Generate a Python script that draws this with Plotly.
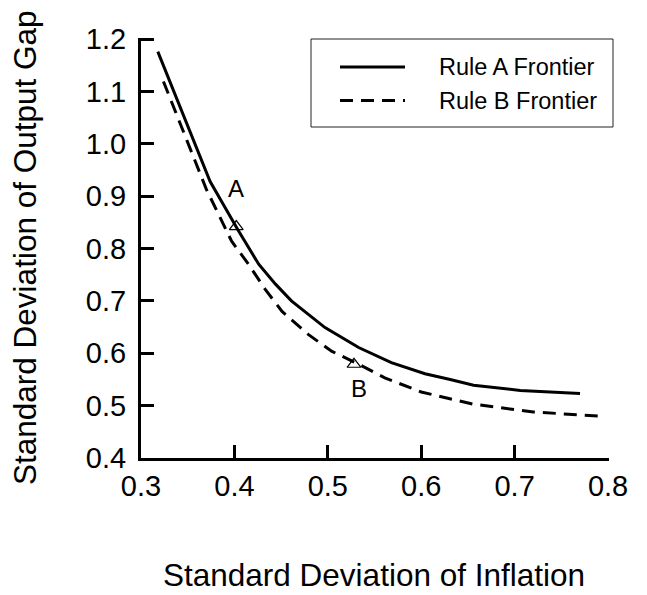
import plotly.graph_objects as go

# ---- data ----
rule_a_x = [0.318, 0.374, 0.404, 0.426, 0.444, 0.461, 0.497, 0.533, 0.568, 0.604, 0.631, 0.656, 0.706, 0.770]
rule_a_y = [1.176, 0.928, 0.835, 0.770, 0.732, 0.700, 0.649, 0.611, 0.582, 0.561, 0.550, 0.539, 0.529, 0.523]

rule_b_x = [0.324, 0.370, 0.397, 0.415, 0.433, 0.451, 0.479, 0.504, 0.533, 0.561, 0.600, 0.631, 0.655, 0.720, 0.789]
rule_b_y = [1.119, 0.913, 0.814, 0.770, 0.722, 0.680, 0.636, 0.604, 0.579, 0.553, 0.526, 0.513, 0.503, 0.488, 0.480]

point_labels = ["A", "B"]
point_x = [0.402, 0.528]
point_y = [0.842, 0.579]
label_x = [0.4017, 0.5334]
label_y = [0.913, 0.531]

series_names = ["Rule A Frontier", "Rule B Frontier"]
x_ticks = [0.3, 0.4, 0.5, 0.6, 0.7, 0.8]
y_ticks = [0.4, 0.5, 0.6, 0.7, 0.8, 0.9, 1.0, 1.1, 1.2]
x_title = "Standard Deviation of Inflation"
y_title = "Standard Deviation of Output Gap"

# ---- layout geometry (page pixels; the page body adds an 8px offset) ----
OFF = 8
W, H = 647 - OFF, 595 - OFF
PL, PR, PT, PB = 141, 609, 38, 458          # plot box in page pixels
ML, MT = PL - OFF, PT - OFF
MR, MB = W - (PR - OFF), H - (PB - OFF)
PW, PH = PR - PL, PB - PT
FONT = "Liberation Sans, Arial, Helvetica, sans-serif"
TICK_LEN = 13


def px(xp):
    return (xp - PL) / PW


def py(yp):
    return (PB - yp) / PH


solid = dict(color="black", width=3)
dashed = dict(color="black", width=3, dash="13px,8px")

fig = go.Figure()
fig.add_trace(go.Scatter(x=rule_a_x, y=rule_a_y, mode="lines", name=series_names[0],
                         line=solid, showlegend=False))
fig.add_trace(go.Scatter(x=rule_b_x, y=rule_b_y, mode="lines", name=series_names[1],
                         line=dashed, showlegend=False))
fig.add_trace(go.Scatter(x=point_x, y=point_y, mode="markers", name="points",
                         marker=dict(symbol="triangle-up-open", size=12, color="black",
                                     line=dict(width=1.2, color="black")),
                         showlegend=False))

annotations = []
for t, x, y in zip(point_labels, label_x, label_y):
    annotations.append(dict(x=x, y=y, xref="x", yref="y", text=t, showarrow=False,
                            font=dict(size=24, color="black", family=FONT),
                            xanchor="center", yanchor="middle", yshift=1))

# axis titles
annotations.append(dict(x=px(374), y=0, xref="paper", yref="paper", text=x_title, showarrow=False,
                        font=dict(size=31.5, color="black", family=FONT),
                        xanchor="center", yanchor="middle", yshift=-(577 - PB) + 2))
annotations.append(dict(x=0, y=0.5, xref="paper", yref="paper", text=y_title, showarrow=False,
                        textangle=-90, font=dict(size=31.5, color="black", family=FONT),
                        xanchor="center", yanchor="middle", xshift=-(PL - 25)))

# manual legend
shapes = [dict(type="rect", xref="paper", yref="paper",
               x0=px(311), x1=px(613), y0=py(127), y1=py(39),
               line=dict(color="#222222", width=1), fillcolor="white", layer="below")]
legend_rows = [67, 100.5]
for name, style, row in zip(series_names, [solid, dashed], legend_rows):
    shapes.append(dict(type="line", xref="paper", yref="paper",
                       x0=px(340), x1=px(405), y0=py(row), y1=py(row), line=style))
    annotations.append(dict(x=px(437), y=py(row), xref="paper", yref="paper", text=name,
                            showarrow=False, font=dict(size=23.5, color="black", family=FONT),
                            xanchor="left", yanchor="middle"))

axis_common = dict(showline=True, linecolor="black", linewidth=3, ticks="inside",
                   ticklen=TICK_LEN, tickwidth=3, tickcolor="black", showgrid=False,
                   zeroline=False, tickfont=dict(size=29, color="black", family=FONT),
                   mirror=False, layer="above traces")

fig.update_layout(
    width=W, height=H,
    margin=dict(l=ML, r=MR, t=MT, b=MB, autoexpand=False),
    paper_bgcolor="white", plot_bgcolor="white",
    showlegend=False,
    xaxis=dict(range=[0.3, 0.801], tickvals=x_ticks, ticktext=[f"{v:.1f}" for v in x_ticks],
               ticklabelstandoff=0, **axis_common),
    yaxis=dict(range=[0.4, 1.202], tickvals=y_ticks, ticktext=[f"{v:.1f}" for v in y_ticks],
               ticklabelstandoff=6, **axis_common),
    annotations=annotations,
    shapes=shapes,
)

fig.write_html("out.html")
